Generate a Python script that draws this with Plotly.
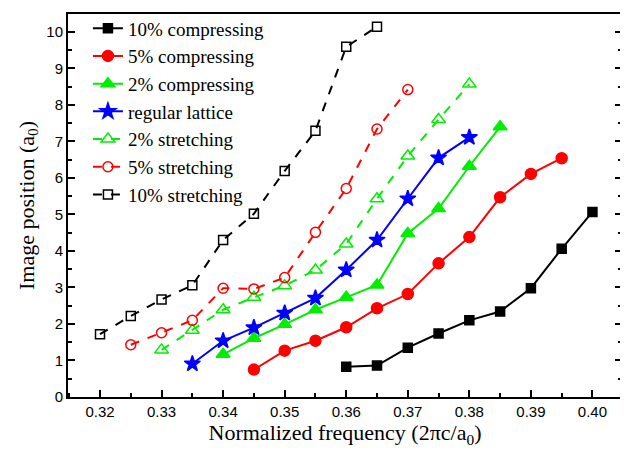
import plotly.graph_objects as go

freq_c10 = [0.36, 0.365, 0.37, 0.375, 0.38, 0.385, 0.39, 0.395, 0.40]
val_c10 = [0.83, 0.86, 1.35, 1.74, 2.10, 2.34, 2.98, 4.06, 5.07]

freq_c5 = [0.345, 0.35, 0.355, 0.36, 0.365, 0.37, 0.375, 0.38, 0.385, 0.39, 0.395]
val_c5 = [0.75, 1.27, 1.54, 1.91, 2.43, 2.82, 3.66, 4.38, 5.47, 6.11, 6.54]

freq_c2 = [0.34, 0.345, 0.35, 0.355, 0.36, 0.365, 0.37, 0.375, 0.38, 0.385]
val_c2 = [1.17, 1.61, 1.99, 2.39, 2.73, 3.07, 4.48, 5.16, 6.32, 7.40]

freq_reg = [0.335, 0.34, 0.345, 0.35, 0.355, 0.36, 0.365, 0.37, 0.375, 0.38]
val_reg = [0.91, 1.54, 1.90, 2.30, 2.71, 3.48, 4.30, 5.43, 6.55, 7.11]

freq_s2 = [0.33, 0.335, 0.34, 0.345, 0.35, 0.355, 0.36, 0.365, 0.37, 0.375, 0.38]
val_s2 = [1.29, 1.83, 2.39, 2.73, 3.05, 3.48, 4.19, 5.43, 6.60, 7.60, 8.57]

freq_s5 = [0.325, 0.33, 0.335, 0.34, 0.345, 0.35, 0.355, 0.36, 0.365, 0.37]
val_s5 = [1.43, 1.76, 2.10, 2.98, 2.96, 3.27, 4.51, 5.71, 7.34, 8.42]

freq_s10 = [0.32, 0.325, 0.33, 0.335, 0.34, 0.345, 0.35, 0.355, 0.36, 0.365]
val_s10 = [1.72, 2.22, 2.67, 3.06, 4.30, 5.02, 6.19, 7.29, 9.59, 10.14]

x_ticks = [0.32, 0.33, 0.34, 0.35, 0.36, 0.37, 0.38, 0.39, 0.40]
x_tick_labels = ["0.32", "0.33", "0.34", "0.35", "0.36", "0.37", "0.38", "0.39", "0.40"]
y_ticks = list(range(0, 11))

series = [
    ("10% compressing", freq_c10, val_c10, "#000000", "solid", "square", 9),
    ("5% compressing", freq_c5, val_c5, "#ff0000", "solid", "circle", 11),
    ("2% compressing", freq_c2, val_c2, "#00ee00", "solid", "triangle-up", 12),
    ("regular lattice", freq_reg, val_reg, "#0000ff", "solid", "star", 12),
    ("2% stretching", freq_s2, val_s2, "#00ee00", "dash", "triangle-up-open", 12),
    ("5% stretching", freq_s5, val_s5, "#ff0000", "dash", "circle-open", 10),
    ("10% stretching", freq_s10, val_s10, "#000000", "dash", "square-open", 9),
]

fig = go.Figure()
for name, xs, ys, color, dash, sym, size in series:
    fig.add_trace(go.Scatter(
        x=xs, y=ys, mode="lines+markers", name=name,
        line=dict(color=color, width=2, dash=dash),
        marker=dict(symbol=sym, size=size, color=color,
                    line=dict(color=color, width=1.5)),
    ))

axis_common = dict(
    showgrid=False, zeroline=False, showline=True, linecolor="black", linewidth=2,
    ticks="inside", ticklen=7, tickwidth=1.5, tickcolor="black", automargin=False,
    tickfont=dict(family="Liberation Sans, Arial, sans-serif", size=15, color="black"),
)

fig.update_xaxes(
    **axis_common, range=[0.3148, 0.4048], tickvals=x_ticks, ticktext=x_tick_labels,
    mirror=True,
    minor=dict(dtick=0.005, tick0=0.315, ticks="inside", ticklen=4, tickwidth=1.5, tickcolor="black"),
    title=dict(text="Normalized frequency (2πc/a<sub>0</sub>)",
               font=dict(family="Liberation Serif, Times New Roman, serif", size=22, color="black"),
               standoff=2),
)
fig.update_yaxes(
    **axis_common, range=[0, 10.49], tickvals=y_ticks, mirror="ticks",
    minor=dict(dtick=0.5, tick0=0, ticks="inside", ticklen=4, tickwidth=1.5, tickcolor="black"),
    title=dict(text="Image position (a<sub>0</sub>)",
               font=dict(family="Liberation Serif, Times New Roman, serif", size=22, color="black"),
               standoff=6),
)

fig.update_layout(
    width=620, height=443,
    margin=dict(l=60, r=6, t=1, b=54),
    plot_bgcolor="white", paper_bgcolor="white",
    legend=dict(x=0.036, y=1.012, xanchor="left", yanchor="top",
                bgcolor="rgba(0,0,0,0)", borderwidth=0,
                font=dict(family="Liberation Serif, Times New Roman, serif", size=19, color="black"),
                tracegroupgap=0, itemwidth=30),
)

fig.write_html("out.html")
